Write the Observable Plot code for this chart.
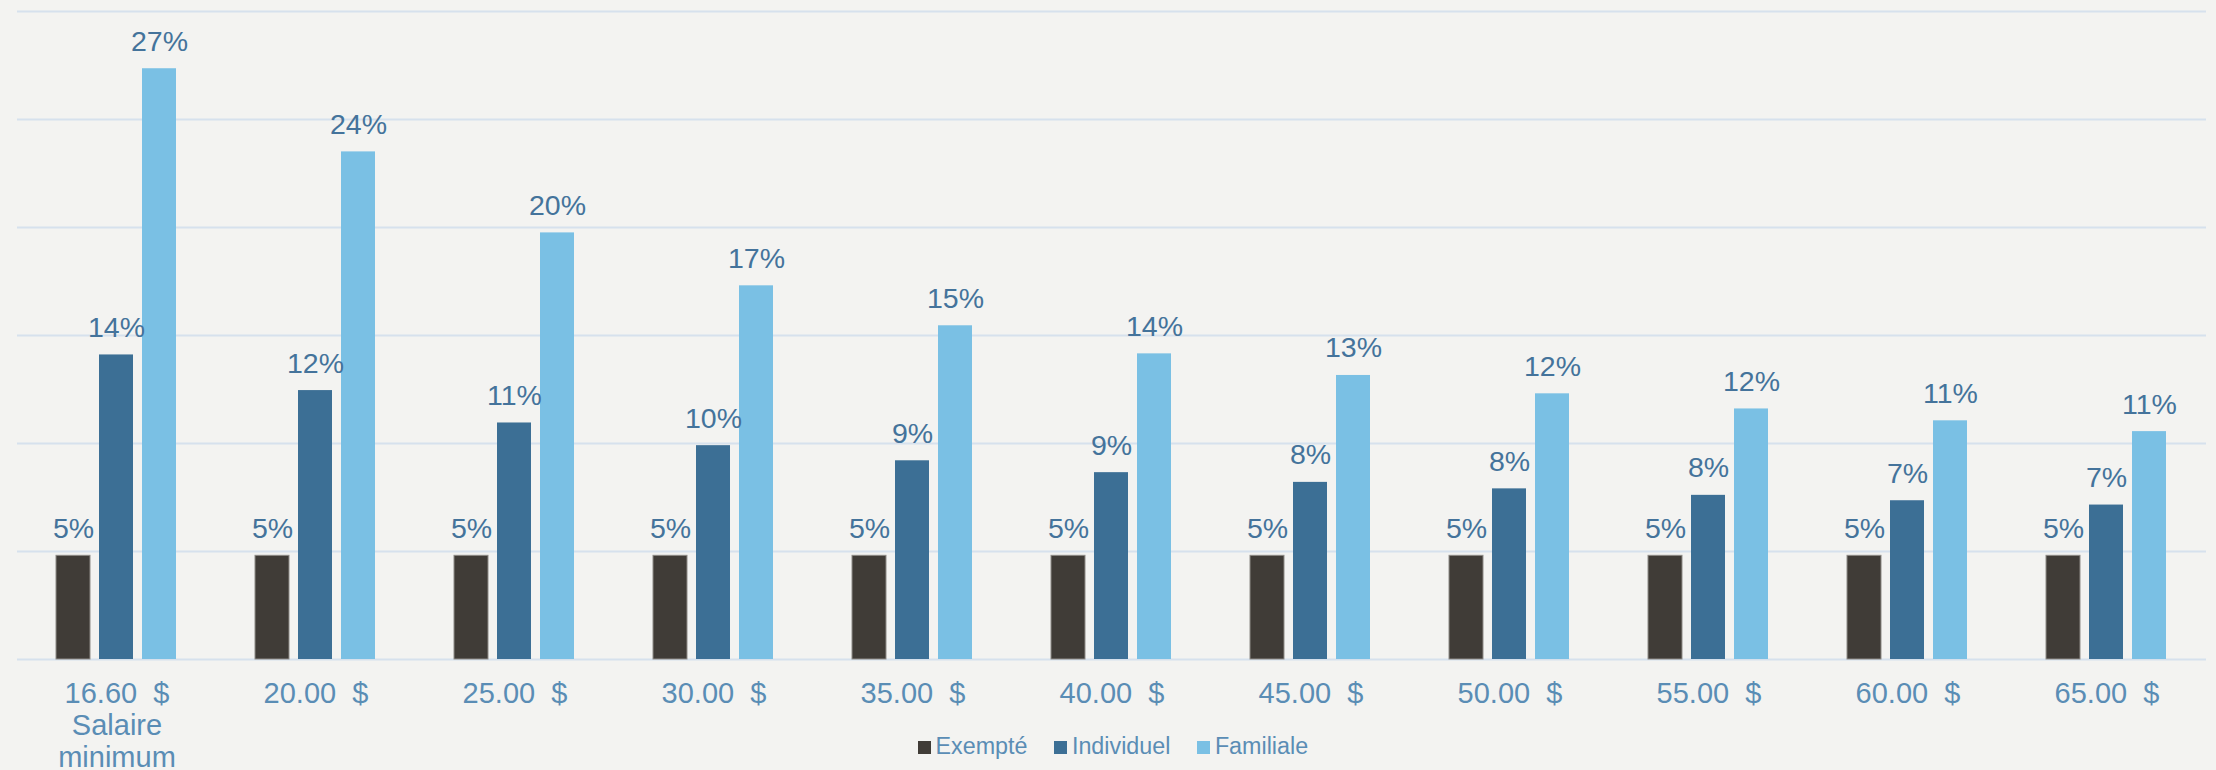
<!DOCTYPE html>
<html>
<head>
<meta charset="utf-8">
<script src="https://cdn.jsdelivr.net/npm/d3@7"></script>
<script src="https://cdn.jsdelivr.net/npm/@observablehq/plot@0.6"></script>
<style>
  html, body { margin: 0; padding: 0; background: #f3f3f1; overflow: hidden; }
  #wrap { position: relative; width: 2216px; height: 770px; }
  #legend { position: absolute; left: 918px; top: 734.8px; font-family: "Liberation Sans", Arial, sans-serif;
            font-size: 23.3px; line-height: 1; color: #5a8db5; white-space: nowrap; }
  #legend .item { display: inline-block; }
  #legend .item + .item { margin-left: 27px; }
  #legend .sw { display: inline-block; width: 12.5px; height: 12.5px; margin-right: 5px; vertical-align: baseline; }
</style>
</head>
<body>
<div id="wrap"><div id="chart"></div><div id="legend"></div></div>
<script>
const categories = [
  "16.60\u00a0\u00a0$\nSalaire\nminimum",
  "20.00\u00a0\u00a0$", "25.00\u00a0\u00a0$", "30.00\u00a0\u00a0$", "35.00\u00a0\u00a0$",
  "40.00\u00a0\u00a0$", "45.00\u00a0\u00a0$", "50.00\u00a0\u00a0$", "55.00\u00a0\u00a0$",
  "60.00\u00a0\u00a0$", "65.00\u00a0\u00a0$"
];
const series = ["Exempté", "Individuel", "Familiale"];
const exempte    = [4.8, 4.8, 4.8, 4.8, 4.8, 4.8, 4.8, 4.8, 4.8, 4.8, 4.8];
const individuel = [14.1, 12.45, 10.95, 9.9, 9.2, 8.65, 8.2, 7.9, 7.6, 7.35, 7.15];
const familiale  = [27.35, 23.5, 19.75, 17.3, 15.45, 14.15, 13.15, 12.3, 11.6, 11.05, 10.55];
const colors = ["#403c37", "#3c6f95", "#7ac0e4"];
const yTicks = [0, 5, 10, 15, 20, 25, 30];

const valuesBySeries = [exempte, individuel, familiale];
const data = categories.flatMap((c, i) =>
  series.map((s, j) => ({category: c, series: s, value: valuesBySeries[j][i]}))
);

const chart = Plot.plot({
  width: 2216,
  height: 770,
  marginLeft: 16,
  marginRight: 10,
  marginTop: 11,
  marginBottom: 111,
  style: {background: "#f3f3f1", fontFamily: "'Liberation Sans', Arial, sans-serif", overflow: "visible"},
  fx: {domain: categories, padding: 0, label: null},
  x: {domain: series, paddingInner: 0.205, paddingOuter: 0.865, axis: null},
  y: {domain: [0, 30], axis: null},
  color: {domain: series, range: colors},
  marks: [
    Plot.gridY(yTicks, {stroke: "#d6e1ed", strokeOpacity: 1, strokeWidth: 2}),
    Plot.barY(data.filter(d => d.series !== "Exempté"), {fx: "category", x: "series", y: "value", fill: "series"}),
    Plot.barY(data.filter(d => d.series === "Exempté"), {fx: "category", x: "series", y: "value", fill: "series", stroke: "#8e8b87", strokeWidth: 1}),
    Plot.text(data, {fx: "category", x: "series", y: "value", text: d => Math.round(d.value) + "%",
      lineAnchor: "bottom", dy: -18, fill: "#44739b", fontSize: 28.5}),
    Plot.axisFx({anchor: "bottom", tickSize: 0, tickPadding: 21, fontSize: 29, lineHeight: 1.1,
      color: "#5a8db5", label: null})
  ]
});
document.getElementById("chart").appendChild(chart);

const legend = document.getElementById("legend");
series.forEach((s, i) => {
  const item = document.createElement("span");
  item.className = "item";
  const sw = document.createElement("span");
  sw.className = "sw";
  sw.style.background = colors[i];
  item.appendChild(sw);
  item.appendChild(document.createTextNode(s));
  legend.appendChild(item);
});
</script>
</body>
</html>
